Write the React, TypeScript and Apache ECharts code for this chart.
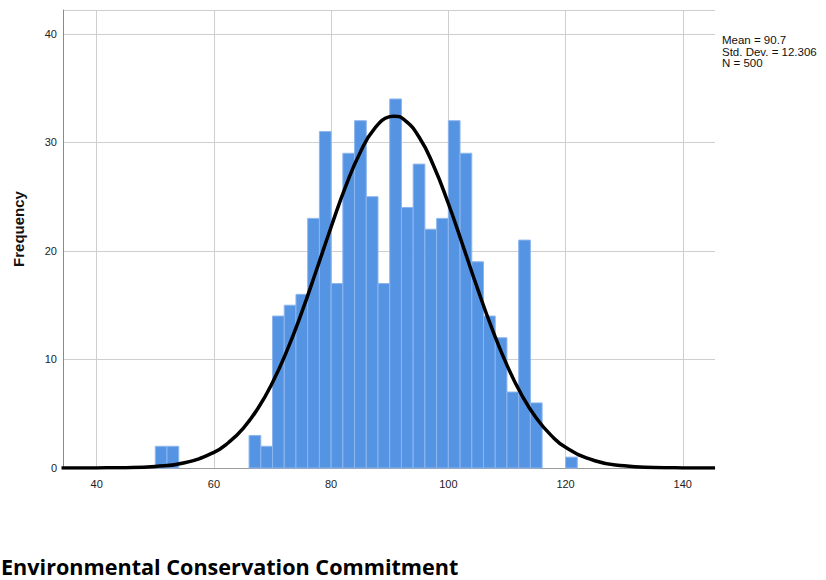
import React, { useEffect, useRef } from "react";
import * as echarts from "echarts";

const binStarts = [50, 52, 66, 68, 70, 72, 74, 76, 78, 80, 82, 84, 86, 88, 90, 92, 94, 96, 98, 100, 102, 104, 106, 108, 110, 112, 114, 120];
const counts = [2, 2, 3, 2, 14, 15, 16, 23, 31, 17, 29, 32, 25, 17, 34, 24, 28, 22, 23, 32, 29, 19, 14, 12, 7, 21, 6, 1];
const binWidth = 2;

const curveX = [34, 40, 45, 50, 55, 60, 62.5, 65, 67.5, 70, 72.5, 75, 77.5, 80, 82.5, 85, 87.5, 90, 90.7, 92.5, 95, 97.5, 100, 102.5, 105, 107.5, 110, 112.5, 115, 117.5, 120, 125, 130, 135, 140, 145.5];
const curveY = [0.0, 0.01, 0.03, 0.14, 0.48, 1.44, 2.35, 3.66, 5.48, 7.88, 10.86, 14.36, 18.24, 22.21, 25.97, 29.12, 31.34, 32.37, 32.42, 32.08, 30.5, 27.83, 24.37, 20.47, 16.5, 12.77, 9.48, 6.75, 4.61, 3.03, 1.91, 0.67, 0.2, 0.05, 0.01, 0.0];

const xTicks = [40, 60, 80, 100, 120, 140];
const statsLines = ["Mean = 90.7", "Std. Dev. = 12.306", "N = 500"];
const xTitle = "Environmental Conservation Commitment";
const yTitle = "Frequency";

export default function App() {
  const ref = useRef<HTMLDivElement>(null);
  useEffect(() => {
    document.body.style.margin = "0";
    const chart = echarts.init(ref.current!, null, { renderer: "svg" });
    const barData = binStarts.map((s, i) => [s, s + binWidth, counts[i]]);
    chart.setOption({
      animation: false,
      backgroundColor: "#ffffff",
      grid: { left: 63, right: 111, top: 10, bottom: 112 },
      xAxis: {
        type: "value",
        min: 34.25,
        max: 145.5,
        axisLine: { show: true, lineStyle: { color: "#9a9a9a", width: 1 } },
        axisTick: { show: false, customValues: xTicks },
        axisLabel: {
          customValues: xTicks,
          color: "#222",
          fontFamily: "Liberation Sans, Arial, sans-serif",
          fontSize: 11,
          margin: 10,
        },
        splitLine: { show: true, lineStyle: { color: "#cfcfcf", width: 1 } },
      },
      yAxis: {
        type: "value",
        min: 0,
        max: 42.2,
        interval: 10,
        axisLine: { show: true, lineStyle: { color: "#8a8a8a", width: 1 } },
        axisTick: { show: false },
        axisLabel: {
          color: "#222",
          fontFamily: "Liberation Sans, Arial, sans-serif",
          fontSize: 11,
          margin: 6,
          showMaxLabel: false,
        },
        splitLine: { show: true, lineStyle: { color: "#cfcfcf", width: 1 } },
      },
      graphic: [
        {
          type: "text",
          x: 18,
          y: 229,
          rotation: Math.PI / 2,
          style: {
            text: yTitle,
            fontFamily: "Liberation Sans, Arial, sans-serif",
            fontWeight: "bold",
            fontSize: 15,
            fill: "#111",
            align: "center",
            verticalAlign: "middle",
          },
        },
        {
          type: "text",
          x: 1,
          y: 566,
          style: {
            text: xTitle,
            fontFamily: "Open Sans, sans-serif",
            fontWeight: "bold",
            fontSize: 21.6,
            fill: "#000",
            align: "left",
            verticalAlign: "middle",
          },
        },
        ...statsLines.map((t, i) => ({
          type: "text",
          x: 722,
          y: 40 + i * 11.7,
          style: {
            text: t,
            fontFamily: "Liberation Sans, Arial, sans-serif",
            fontSize: 11.5,
            fill: "#111",
            align: "left",
            verticalAlign: "middle",
          },
        })),
      ],
      series: [
        {
          type: "custom",
          data: barData,
          encode: { x: [0, 1], y: 2 },
          renderItem: (params: any, api: any) => {
            const p0 = api.coord([api.value(0), api.value(2)]);
            const p1 = api.coord([api.value(1), 0]);
            return {
              type: "rect",
              shape: { x: p0[0], y: p0[1], width: p1[0] - p0[0], height: p1[1] - p0[1] },
              style: { fill: "#5594E3", stroke: "#8db6ee", lineWidth: 1 },
            };
          },
          z: 2,
        },
        {
          type: "line",
          data: curveX.map((x, i) => [x, curveY[i]]),
          smooth: true,
          showSymbol: false,
          lineStyle: { color: "#000", width: 3.5 },
          z: 3,
        },
      ],
    });
    return () => chart.dispose();
  }, []);
  return <div ref={ref} style={{ width: 826, height: 580 }} />;
}
